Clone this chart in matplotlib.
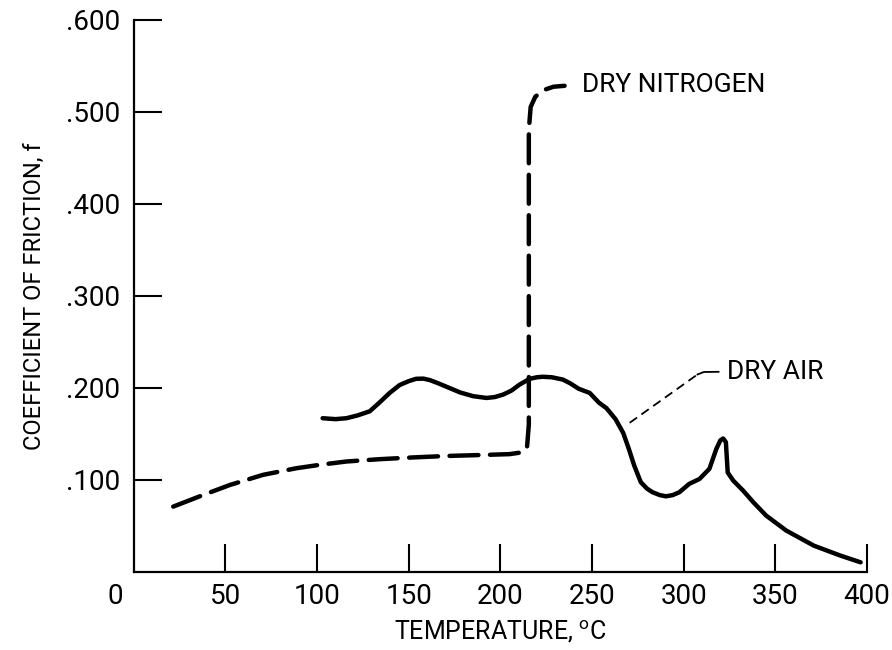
import numpy as np
import matplotlib
matplotlib.use("Agg")
import matplotlib.pyplot as plt

plt.rcParams['font.family'] = ['Roboto', 'DejaVu Sans']
plt.rcParams['mathtext.fontset'] = 'custom'
plt.rcParams['mathtext.rm'] = 'Roboto'

# dry nitrogen (dashed)
n2_temp = [21.5, 37.8, 52.4, 70.5, 88.7, 101.5, 116, 134, 152, 170.5, 188.7, 205, 212, 214.5,
           215.5, 215.5, 216.5, 219, 223, 229, 235]
n2_f = [0.071, 0.0836, 0.0945, 0.1055, 0.1127, 0.1164, 0.120, 0.1225, 0.1244, 0.126, 0.127,
        0.128, 0.130, 0.135, 0.16, 0.48, 0.505, 0.516, 0.523, 0.527, 0.528]

# dry air (solid)
air_temp = [103, 110, 116, 122, 128.7, 134, 139.6, 145, 150, 154, 158, 161.5, 166, 172, 178, 185,
            192.4, 197, 201.5, 206, 210.5, 216, 220, 223, 228, 234, 238, 242.7, 248.7, 253.7,
            257.8, 262.8, 267, 270, 273, 276.6, 280, 283, 287, 290.3, 294, 297.6, 303, 308.6,
            314, 317.8, 320, 321.5, 323, 324, 327, 332.4, 338, 345, 356, 371, 385.5, 396.5]
air_f = [0.167, 0.166, 0.167, 0.170, 0.1745, 0.184, 0.1945, 0.203, 0.2073, 0.2098, 0.210, 0.2084,
         0.205, 0.200, 0.195, 0.191, 0.189, 0.190, 0.1927, 0.197, 0.2036, 0.2098, 0.2115, 0.212,
         0.2115, 0.209, 0.205, 0.199, 0.1945, 0.184, 0.178, 0.166, 0.151, 0.134, 0.1156, 0.0975,
         0.0905, 0.0866, 0.0835, 0.0822, 0.0835, 0.0866, 0.0957, 0.101, 0.112, 0.1337, 0.143,
         0.145, 0.141, 0.108, 0.0993, 0.0884, 0.0757, 0.0612, 0.0449, 0.0286, 0.0178, 0.0105]

x_ticks = [50, 100, 150, 200, 250, 300, 350, 400]
y_ticks = [0.1, 0.2, 0.3, 0.4, 0.5, 0.6]
y_ticklabels = ['.100', '.200', '.300', '.400', '.500', '.600']

fig = plt.figure(figsize=(8.92, 6.5), dpi=100)
ax = fig.add_axes([0.150, 0.12, 0.822, 0.85])

ax.plot(air_temp, air_f, color='black', linewidth=3.2, solid_capstyle='round',
        solid_joinstyle='round')
ax.plot(n2_temp, n2_f, color='black', linewidth=3.2, dashes=(6.5, 2.6),
        dash_capstyle='round')

# leader for dry air label
ax.plot([270.5, 307.5], [0.162, 0.2145], color='black', linewidth=1.3, dashes=(5, 3))
ax.plot([307.5, 311, 319], [0.2145, 0.2172, 0.2174], color='black', linewidth=1.3)

ax.text(244.4, 0.529, 'DRY NITROGEN', fontsize=19, ha='left', va='center')
ax.text(323.5, 0.2174, 'DRY AIR', fontsize=19, ha='left', va='center')

ax.set_xlim(0, 400)
ax.set_ylim(0, 0.6)
ax.set_xticks(x_ticks)
ax.set_xticklabels([str(t) for t in x_ticks])
ax.set_yticks(y_ticks)
ax.set_yticklabels(y_ticklabels)

for s in ['top', 'right']:
    ax.spines[s].set_visible(False)
for s in ['left', 'bottom']:
    ax.spines[s].set_linewidth(1.6)

ax.tick_params(axis='both', direction='in', length=20, width=1.5, labelsize=20)
ax.tick_params(axis='x', pad=8)
ax.tick_params(axis='y', pad=10)
for t in ax.xaxis.get_major_ticks() + ax.yaxis.get_major_ticks():
    t.tick1line.set_clip_on(False)

ax.annotate('0', xy=(0, 0), xytext=(-13, -8), textcoords='offset points',
            ha='center', va='top', fontsize=20, annotation_clip=False)

ax.set_xlabel('TEMPERATURE, $^{\\mathrm{o}}$C', fontsize=18, labelpad=6)
ax.set_ylabel('COEFFICIENT OF FRICTION, f', fontsize=17, labelpad=14)

fig.savefig('out.png', dpi=100)
